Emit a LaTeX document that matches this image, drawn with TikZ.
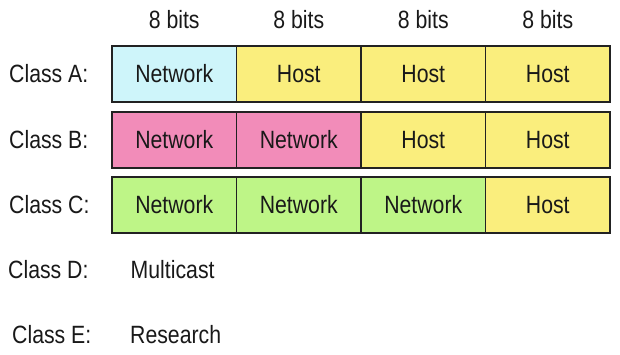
\documentclass[tikz,border=0pt]{standalone}
\usepackage{fontspec}
\setmainfont[FakeStretch=0.85]{Liberation Sans}
\definecolor{cA}{RGB}{206,245,250}
\definecolor{cH}{RGB}{250,238,125}
\definecolor{cB}{RGB}{242,140,185}
\definecolor{cC}{RGB}{190,245,135}
\definecolor{ln}{RGB}{34,34,34}
\begin{document}
\begin{tikzpicture}[x=1pt,y=-1pt,
  cell/.style={draw=ln,line width=1.4pt,minimum width=124.5pt,minimum height=56pt,inner sep=0pt,font=\fontsize{25}{28}\selectfont,text=black!90},
  lbl/.style={anchor=west,inner sep=0pt,font=\fontsize{25}{28}\selectfont,text=black!90},
  bits/.style={inner sep=0pt,font=\fontsize{25}{28}\selectfont,text=black!90}]
\useasboundingbox (0,0) rectangle (620,355);
% bit labels
\node[bits] (b1) at (174.25,20) {8 bits};
\node[bits] (b2) at (298.75,20) {8 bits};
\node[bits] (b3) at (423.25,20) {8 bits};
\node[bits] (b4) at (547.75,20) {8 bits};
% class A
\node[lbl] (la) at (9,74) {Class A:};
\node[cell,fill=cA] (a1) at (174.25,74) {Network};
\node[cell,fill=cH] (a2) at (298.75,74) {Host};
\node[cell,fill=cH] (a3) at (423.25,74) {Host};
\node[cell,fill=cH] (a4) at (547.75,74) {Host};
% class B
\node[lbl] (lb) at (9,140) {Class B:};
\node[cell,fill=cB] (b1c) at (174.25,140) {Network};
\node[cell,fill=cB] (b2c) at (298.75,140) {Network};
\node[cell,fill=cH] (b3c) at (423.25,140) {Host};
\node[cell,fill=cH] (b4c) at (547.75,140) {Host};
% class C
\node[lbl] (lc) at (9,205) {Class C:};
\node[cell,fill=cC] (c1) at (174.25,205) {Network};
\node[cell,fill=cC] (c2) at (298.75,205) {Network};
\node[cell,fill=cC] (c3) at (423.25,205) {Network};
\node[cell,fill=cH] (c4) at (547.75,205) {Host};
% class D, E
\node[lbl] (ld) at (8,270) {Class D:};
\node[lbl] (ldt) at (130.5,270) {Multicast};
\node[lbl] (le) at (12,335) {Class E:};
\node[lbl] (let) at (130,335) {Research};
\end{tikzpicture}
\end{document}
